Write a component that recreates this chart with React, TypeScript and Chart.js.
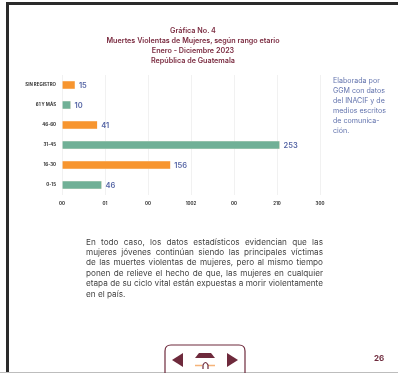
import React, { useEffect, useRef } from "react";
import { Chart, registerables } from "chart.js";

Chart.register(...registerables);

const categories = ["SIN REGISTRO", "61 Y MÁS", "46-60", "31-45", "16-30", "0-15"];
const barValues = [15, 10, 41, 253, 126, 46];
const valueLabels = ["15", "10", "41", "253", "156", "46"];
const barColors = ["#f7952f", "#70b096", "#f7952f", "#70b096", "#f7952f", "#70b096"];
const xTickLabels = ["00", "01", "00", "1002", "00", "210", "300"];
const titleLines = [
  "Gráfica No. 4",
  "Muertes Violentas de Mujeres, según rango etario",
  "Enero - Diciembre 2023",
  "República de Guatemala",
];
const noteLines = ["Elaborada por", "GGM con datos", "del INACIF y de", "medios escritos", "de comunica-", "ción."];
const bodyLines = [
  "En todo caso, los datos estadísticos evidencian que las",
  "mujeres jóvenes continúan siendo las principales víctimas",
  "de las muertes violentas de mujeres, pero al mismo tiempo",
  "ponen de relieve el hecho de que, las mujeres en cualquier",
  "etapa de su ciclo vital están expuestas a morir violentamente",
  "en el país.",
];
const pageNumber = "26";

const FONT = "Inter, 'Open Sans', sans-serif";

const valueLabelPlugin = {
  id: "valueLabels",
  afterDatasetsDraw(chart: any) {
    const { ctx } = chart;
    const meta = chart.getDatasetMeta(0);
    ctx.save();
    ctx.font = `600 7.5px ${FONT}`;
    ctx.fillStyle = "#5565a5";
    ctx.textBaseline = "middle";
    meta.data.forEach((bar: any, i: number) => {
      ctx.fillText(valueLabels[i], bar.x + 4, bar.y + 0.5);
    });
    ctx.restore();
  },
};

export default function App() {
  const ref = useRef<HTMLCanvasElement>(null);
  useEffect(() => {
    const chart = new Chart(ref.current as HTMLCanvasElement, {
      type: "bar",
      data: {
        labels: categories,
        datasets: [
          {
            data: barValues,
            backgroundColor: barColors,
            borderColor: "#fbeee0",
            borderWidth: 0.5,
            barThickness: 8,
          },
        ],
      },
      options: {
        indexAxis: "y",
        animation: false,
        responsive: false,
        layout: { padding: { left: 10, right: 78, top: 75, bottom: 158 } },
        plugins: {
          legend: { display: false },
          tooltip: { enabled: false },
          title: { display: false },
        },
        scales: {
          x: {
            min: 0,
            max: 300,
            afterFit(s: any) {
              s.height = 20;
            },
            afterBuildTicks(s: any) {
              s.ticks = xTickLabels.map((_, i) => ({ value: i * 50 }));
            },
            grid: { color: "#f1f1f1", lineWidth: 1, drawTicks: false },
            border: { display: false },
            ticks: {
              padding: 6,
              maxRotation: 0,
              autoSkip: false,
              color: "#333333",
              font: { family: FONT, size: 4.4, weight: "700" },
              callback: (_v: any, i: number) => xTickLabels[i],
            },
          },
          y: {
            afterFit(s: any) {
              s.width = 52;
            },
            grid: { display: false, drawTicks: false },
            border: { display: false },
            ticks: {
              padding: 6,
              autoSkip: false,
              color: "#333333",
              font: { family: FONT, size: 4.4, weight: "700" },
            },
          },
        },
      } as any,
      plugins: [valueLabelPlugin],
    });
    return () => chart.destroy();
  }, []);

  return (
    <div style={{ position: "fixed", left: 0, top: 0, width: 398, height: 373, background: "#fff", overflow: "hidden", fontFamily: FONT }}>
      <canvas ref={ref} width={398} height={373} style={{ position: "absolute", left: 0, top: 0, display: "block" }} />
      <div style={{ position: "absolute", left: 6, top: 2, width: 392, height: 2.5, background: "#2a2a2a" }} />
      <div style={{ position: "absolute", left: 6, top: 2, width: 2.5, height: 371, background: "#2a2a2a" }} />
      <div style={{ position: "absolute", left: 0, top: 371.5, width: 398, height: 1.5, background: "#bdbdbd" }} />
      <div style={{ position: "absolute", left: 93, top: 26, width: 200, textAlign: "center", color: "#7b2b40", fontSize: 7.2, fontWeight: 600, lineHeight: "10px", whiteSpace: "nowrap" }}>
        {titleLines.map((l, i) => <div key={i}>{l}</div>)}
      </div>
      <div style={{ position: "absolute", left: 333, top: 76, color: "#6273ad", fontSize: 7.1, lineHeight: "10px", whiteSpace: "nowrap" }}>
        {noteLines.map((l, i) => <div key={i}>{l}</div>)}
      </div>
      <div style={{ position: "absolute", left: 86, top: 236.5, width: 237, color: "#444", fontSize: 8.2, lineHeight: "10.4px" }}>
        {bodyLines.map((l, i) => (
          <div key={i} style={{ whiteSpace: "nowrap", textAlign: "justify", textAlignLast: i < bodyLines.length - 1 ? "justify" : "left", whiteSpaceCollapse: "preserve" } as any}>{l}</div>
        ))}
      </div>
      <div style={{ position: "absolute", left: 374, top: 353, color: "#6e2a3c", fontSize: 8, fontWeight: 700 }}>{pageNumber}</div>
      <svg width={398} height={373} style={{ position: "absolute", left: 0, top: 0 }}>
        <path d="M165 374 V351 Q165 345 171 345 H239 Q245 345 245 351 V374" fill="none" stroke="#6e2a3c" strokeWidth={1.2} />
        <path d="M183 353 L172 360 L183 367 Z" fill="#6e2a3c" />
        <path d="M227 353 L238 360 L227 367 Z" fill="#6e2a3c" />
        <path d="M199 353 H211 L215 358 H195 Z" fill="#6e2a3c" />
        <path d="M195 365.5 H202 M208 365.5 H215" stroke="#f5b47a" strokeWidth={1.5} />
        <path d="M203 369 V365 Q205.5 360 208 365 V369" fill="none" stroke="#6e2a3c" strokeWidth={1.2} />
      </svg>
    </div>
  );
}
